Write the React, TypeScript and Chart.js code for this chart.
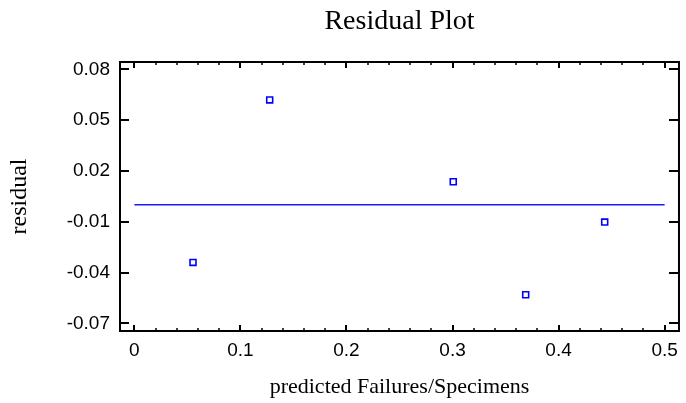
import React, { useEffect, useRef } from "react";
import { Chart, registerables } from "chart.js";

Chart.register(...registerables);

// ---- data ----
const predicted = [0.0553, 0.1276, 0.3007, 0.369, 0.4435];
const residuals = [-0.034, 0.0619, 0.0136, -0.0531, -0.0102];
const zeroLineX = [0, 0.5];
const zeroLineY = [0, 0];
const xTicks = [0, 0.1, 0.2, 0.3, 0.4, 0.5];
const yTicks = [0.08, 0.05, 0.02, -0.01, -0.04, -0.07];

const TITLE = "Residual Plot";
const X_LABEL = "predicted Failures/Specimens";
const Y_LABEL = "residual";

const SANS = "'Liberation Sans', Arial, sans-serif";
const SERIF = "'Liberation Serif', 'Times New Roman', serif";

const framePlugin = {
  id: "frame",
  afterDatasetsDraw(chart: any) {
    const { ctx, chartArea, scales } = chart;
    const { left, right, top, bottom } = chartArea;
    const xs = scales.x;
    const ys = scales.y;
    ctx.save();
    ctx.strokeStyle = "#000";
    ctx.lineWidth = 2;
    ctx.strokeRect(left, top, right - left, bottom - top);
    // y ticks, left and right, inward
    ctx.lineWidth = 2;
    yTicks.forEach((v) => {
      const py = Math.round(ys.getPixelForValue(v));
      ctx.beginPath();
      ctx.moveTo(left, py);
      ctx.lineTo(left + 9, py);
      ctx.moveTo(right, py);
      ctx.lineTo(right - 10, py);
      ctx.stroke();
    });
    // x ticks, bottom and top, inward, with minor ticks
    for (let i = 0; i < xTicks.length; i++) {
      const v = xTicks[i];
      const px = Math.round(xs.getPixelForValue(v));
      ctx.lineWidth = 2;
      ctx.beginPath();
      ctx.moveTo(px, bottom);
      ctx.lineTo(px, bottom - 6);
      ctx.moveTo(px, top);
      ctx.lineTo(px, top + 6);
      ctx.stroke();
      if (i < xTicks.length - 1) {
        const step = (xTicks[i + 1] - v) / 5;
        ctx.lineWidth = 1.5;
        for (let k = 1; k < 5; k++) {
          const mx = Math.round(xs.getPixelForValue(v + step * k));
          ctx.beginPath();
          ctx.moveTo(mx, bottom);
          ctx.lineTo(mx, bottom - 3);
          ctx.moveTo(mx, top);
          ctx.lineTo(mx, top + 3);
          ctx.stroke();
        }
      }
    }
    ctx.restore();
  },
};

export default function App() {
  const ref = useRef<HTMLCanvasElement | null>(null);
  useEffect(() => {
    if (!ref.current) return;
    Chart.defaults.color = "#000";
    const chart = new Chart(ref.current, {
      type: "scatter",
      data: {
        datasets: [
          {
            type: "scatter",
            data: predicted.map((x, i) => ({ x, y: residuals[i] })),
            pointStyle: "rect",
            pointRadius: 4.2,
            borderColor: "#0000ff",
            backgroundColor: "rgba(0,0,0,0)",
            borderWidth: 1.6,
          },
          {
            type: "line",
            data: zeroLineX.map((x, i) => ({ x, y: zeroLineY[i] })),
            borderColor: "#1a1aff",
            borderWidth: 1.4,
            pointRadius: 0,
            fill: false,
          },
        ],
      } as any,
      options: {
        animation: false,
        responsive: false,
        devicePixelRatio: 1,
        layout: { padding: { top: 0, right: 2, bottom: 0, left: 0 } },
        plugins: {
          legend: { display: false },
          tooltip: { enabled: false },
          title: {
            display: true,
            text: TITLE,
            fullSize: false,
            color: "#000",
            font: { family: SERIF, size: 28, weight: "normal" },
            padding: { top: 4.5, bottom: 23.9 },
          },
        },
        scales: {
          x: {
            type: "linear",
            min: -0.01355,
            max: 0.51355,
            grid: { display: false, drawTicks: false },
            border: { display: false },
            afterBuildTicks: (s: any) => {
              s.ticks = xTicks.map((v) => ({ value: v }));
            },
            afterFit: (s: any) => {
              s.height = 72;
            },
            ticks: {
              color: "#000",
              font: { family: SANS, size: 19 },
              padding: 8,
              maxRotation: 0,
              autoSkip: false,
              callback: (v: any) => String(Number(v)),
            },
            title: {
              display: true,
              text: X_LABEL,
              color: "#000",
              font: { family: SERIF, size: 22, weight: "normal" },
              padding: { top: 0, bottom: 3 },
            },
          },
          y: {
            type: "linear",
            min: -0.0745,
            max: 0.0843,
            grid: { display: false, drawTicks: false },
            border: { display: false },
            afterBuildTicks: (s: any) => {
              s.ticks = yTicks.map((v) => ({ value: v }));
            },
            afterFit: (s: any) => {
              s.width = 120;
            },
            ticks: {
              color: "#000",
              font: { family: SANS, size: 19 },
              padding: 10,
              autoSkip: false,
              callback: (v: any) => Number(v).toFixed(2),
            },
            title: {
              display: true,
              text: Y_LABEL,
              color: "#000",
              font: { family: SERIF, size: 24, weight: "normal" },
              padding: { top: 5.8, bottom: 0 },
            },
          },
        },
      } as any,
      plugins: [framePlugin],
    });
    return () => chart.destroy();
  }, []);
  return (
    <div style={{ position: "fixed", left: 0, top: 0, width: 686, height: 403, background: "#fff" }}>
      <canvas ref={ref} width={686} height={403} style={{ display: "block" }} />
    </div>
  );
}
